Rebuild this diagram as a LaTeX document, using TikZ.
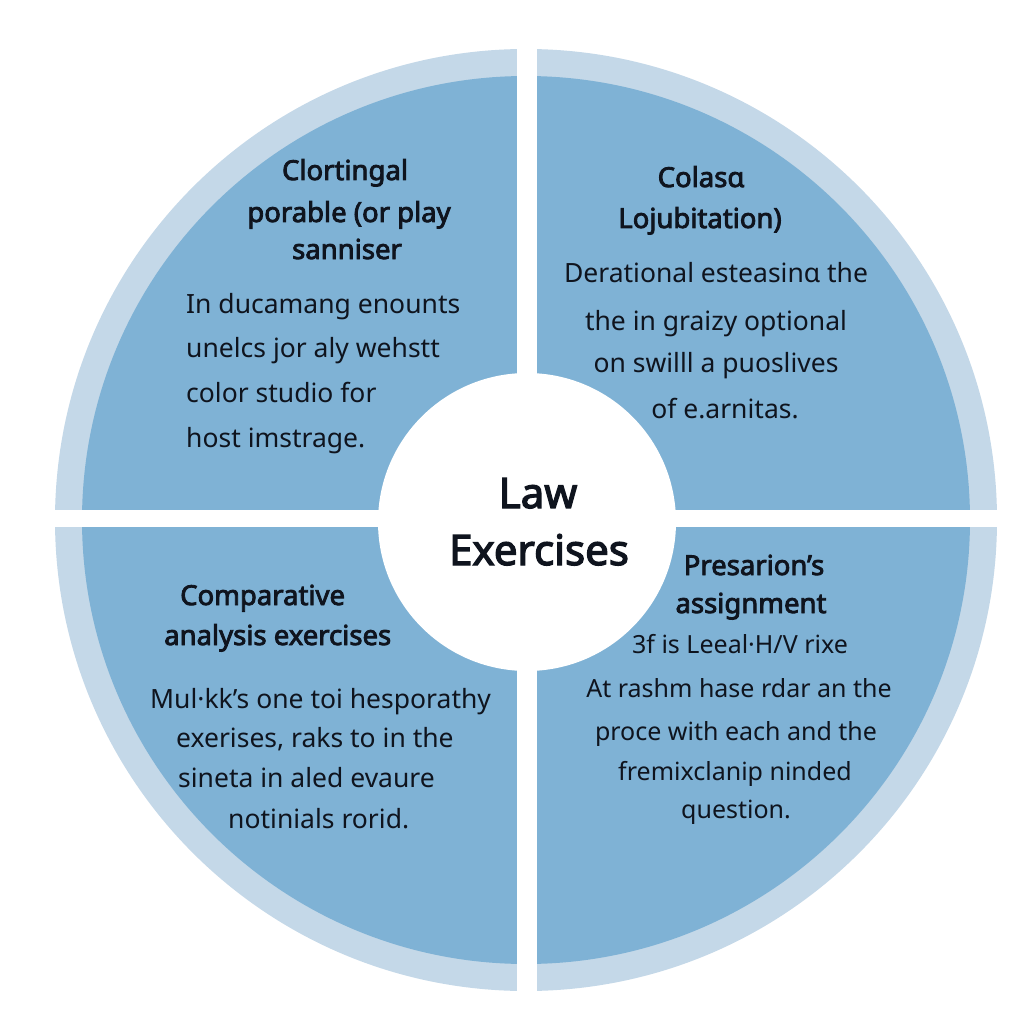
\documentclass[tikz,border=0pt]{standalone}
\usepackage{fontspec}
\setmainfont{Noto Sans}[BoldFont={Noto Sans},BoldFeatures={FakeBold=3}]
\definecolor{ringlight}{RGB}{196,216,232}
\definecolor{diskblue}{RGB}{127,178,213}
\definecolor{inktext}{RGB}{15,20,30}
\begin{document}
\begin{tikzpicture}[x=1pt,y=-1pt,
  titlefont/.style={font=\fontsize{27.5}{30}\selectfont\bfseries},
  bodyfont/.style={font=\fontsize{26.5}{30}\selectfont},
  bodysmall/.style={font=\fontsize{25}{30}\selectfont},
  centerfont/.style={font=\fontsize{42}{50}\selectfont\bfseries},
  txt/.style={inner sep=0pt,text=inktext}]
\useasboundingbox (0,0) rectangle (1024,1024);
\fill[white] (0,0) rectangle (1024,1024);
% rings
\fill[ringlight] (526,520) circle[radius=471];
\fill[diskblue] (526,520) circle[radius=444];
% separating gaps
\fill[white] (517,30) rectangle (537,1010);
\fill[white] (40,510) rectangle (1010,527);
% center disk
\fill[white] (527,522) circle[radius=149];
\node[txt,centerfont,anchor=base] (law) at (538,508) {Law};
\node[txt,centerfont,anchor=base] (exer) at (539,565) {Exercises};
% top-left
\node[txt,titlefont,anchor=base] (tlt1) at (345,180) {Clortingal};
\node[txt,titlefont,anchor=base] (tlt2) at (349,222) {porable (or play};
\node[txt,titlefont,anchor=base] (tlt3) at (347,259) {sanniser};
\node[txt,bodyfont,anchor=base west] (tlb1) at (186,313) {In ducamang enounts};
\node[txt,bodyfont,anchor=base west] (tlb2) at (186,357) {unelcs jor aly wehstt};
\node[txt,bodyfont,anchor=base west] (tlb3) at (186,402) {color studio for};
\node[txt,bodyfont,anchor=base west] (tlb4) at (186,447) {host imstrage.};
% top-right
\node[txt,titlefont,anchor=base] (trt1) at (701,187) {Colasɑ};
\node[txt,titlefont,anchor=base] (trt2) at (700,228) {Lojubitation)};
\node[txt,bodyfont,anchor=base] (trb1) at (716,282) {Derational esteasinɑ the};
\node[txt,bodyfont,anchor=base] (trb2) at (716,330) {the in graizy optional};
\node[txt,bodyfont,anchor=base] (trb3) at (716,372) {on swilll a puoslives};
\node[txt,bodyfont,anchor=base] (trb4) at (725,418) {of e.arnitas.};
% bottom-left
\node[txt,titlefont,anchor=base west] (blt1) at (180,605) {Comparative};
\node[txt,titlefont,anchor=base west] (blt2) at (164,645) {analysis exercises};
\node[txt,bodyfont,anchor=base west] (blb1) at (150,708) {Mul·kk’s one toi hesporathy};
\node[txt,bodyfont,anchor=base west] (blb2) at (176,747) {exerises, raks to in the};
\node[txt,bodyfont,anchor=base west] (blb3) at (178,787) {sineta in aled evaure};
\node[txt,bodyfont,anchor=base west] (blb4) at (228,828) {notinials rorid.};
% bottom-right
\node[txt,titlefont,anchor=base] (brt1) at (754,575) {Presarion’s};
\node[txt,titlefont,anchor=base] (brt2) at (751,613) {assignment};
\node[txt,bodysmall,anchor=base] (brb1) at (740,653) {3f is Leeal·H/V rixe};
\node[txt,bodysmall,anchor=base] (brb2) at (739,697) {At rashm hase rdar an the};
\node[txt,bodysmall,anchor=base] (brb3) at (736,740) {proce with each and the};
\node[txt,bodysmall,anchor=base] (brb4) at (735,780) {fremixclanip ninded};
\node[txt,bodysmall,anchor=base] (brb5) at (736,818) {question.};
\end{tikzpicture}
\end{document}
